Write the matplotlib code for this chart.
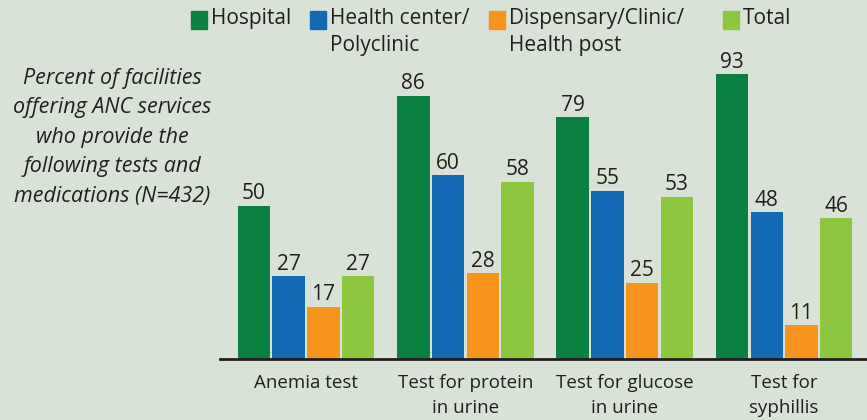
import matplotlib
matplotlib.use('agg')
import matplotlib.pyplot as plt
from matplotlib.patches import Rectangle
import numpy as np

categories = ['Anemia test', 'Test for protein\nin urine', 'Test for glucose\nin urine', 'Test for\nsyphillis']
series = ['Hospital', 'Health center/\nPolyclinic', 'Dispensary/Clinic/\nHealth post', 'Total']
hospital = [50, 86, 79, 93]
health_center = [27, 60, 55, 48]
dispensary = [17, 28, 25, 11]
total = [27, 58, 53, 46]
colors = ['#0b8040', '#1369b4', '#f7941d', '#8dc63f']
left_note = 'Percent of facilities\noffering ANC services\nwho provide the\nfollowing tests and\nmedications (N=432)'

plt.rcParams['font.family'] = ['Open Sans', 'DejaVu Sans']
bg = '#d8e2d6'
W, H = 867, 420
fig = plt.figure(figsize=(W / 100, H / 100), dpi=100, facecolor=bg)

# axes spans baseline (y=359px) up to top of figure
ax = fig.add_axes([220 / W, (H - 359) / H, 1 - 220 / W, 359 / H])
ax.set_facecolor(bg)
ax.set_xlim(-0.54, 3.52)
ax.set_ylim(0, 359 / 3.06)

x = np.arange(len(categories))
width = 0.204
step = 0.218
for i, vals in enumerate([hospital, health_center, dispensary, total]):
    pos = x + (i - 1.5) * step
    bars = ax.bar(pos, vals, width, color=colors[i])
    for b, v in zip(bars, vals):
        ax.text(b.get_x() + b.get_width() / 2, v + 0.5, str(v), ha='center', va='bottom',
                fontsize=15, color='#231f20')

for s in ['top', 'right', 'left']:
    ax.spines[s].set_visible(False)
ax.spines['bottom'].set_linewidth(2)
ax.spines['bottom'].set_color('#231f20')
ax.set_yticks([])
ax.set_xticks(x)
ax.set_xticklabels(categories, fontsize=13.5, color='#231f20', linespacing=1.45)
ax.tick_params(axis='x', length=0, pad=11)

# legend drawn by hand
leg_x = [191, 310, 489, 723]
for lx, lab, c in zip(leg_x, series, colors):
    fig.add_artist(Rectangle((lx / W, 1 - 29 / H), 16 / W, 18 / H, color=c,
                             transform=fig.transFigure))
    fig.text((lx + 20) / W, 1 - 8 / H, lab, ha='left', va='top', fontsize=15,
             color='#231f20', linespacing=1.4)

fig.text(112 / W, 1 - 68 / H, left_note, ha='center', va='top', fontsize=15.5,
         style='italic', color='#231f20', linespacing=1.53)

fig.savefig('out.png', dpi=100, facecolor=bg)
